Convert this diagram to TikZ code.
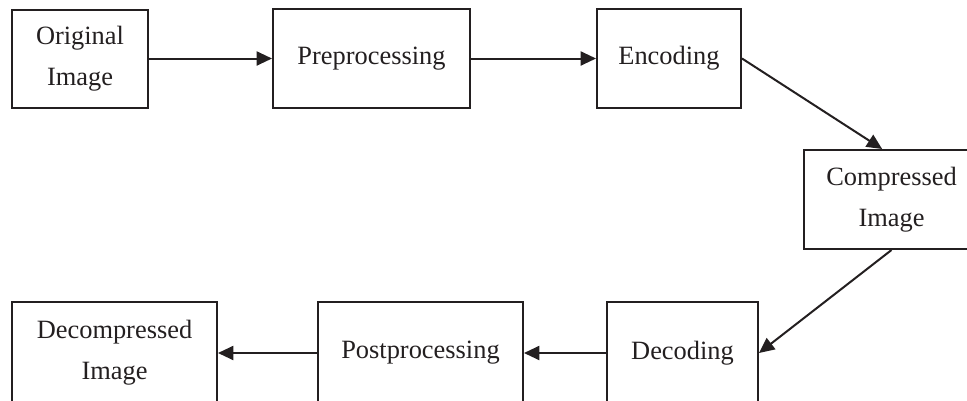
\documentclass[tikz,border=0pt]{standalone}
\usepackage{fontspec}
\setmainfont{Liberation Serif}
\usetikzlibrary{arrows.meta}
\definecolor{diagfg}{HTML}{231F20}

\tikzset{
  stage/.style={draw=diagfg, line width=1.5pt, inner sep=0pt, align=center,
    text=diagfg, font=\fontsize{19.8}{30.75}\selectfont},
  flow/.style={draw=diagfg, line width=1.5pt, -{Triangle[length=11.5pt,width=10.5pt]}}
}

\begin{document}
\begin{tikzpicture}[x=0.75pt, y=-0.75pt]
  \useasboundingbox (0,0) rectangle (967,400);
  \clip (0,0) rectangle (967,400);
  % top row
  \node[stage, minimum width=102pt, minimum height=73.5pt] (orig) at (80,58.5) {Original\\Image};
  \node[stage, minimum width=147.75pt, minimum height=74.25pt] (prep) at (371.5,58.5) {Preprocessing};
  \node[stage, minimum width=108pt, minimum height=74.25pt] (enc) at (669,58.5) {Encoding};
  % right
  \node[stage, minimum width=131.25pt, minimum height=74.25pt] (comp) at (891.5,199.5) {Compressed\\Image};
  % bottom row
  \node[stage, minimum width=113.25pt, minimum height=76.5pt] (dec) at (682.5,353) {Decoding};
  \node[stage, minimum width=153.75pt, minimum height=76.5pt] (post) at (420.5,353) {Postprocessing};
  \node[stage, minimum width=153.75pt, minimum height=76.5pt] (decomp) at (114.5,353) {Decompressed\\Image};
  \draw[flow] (orig) -- (prep);
  \draw[flow] (prep) -- (enc);
  \draw[flow] (enc.east) -- ([xshift=-7pt]comp.north);
  \draw[flow] (comp.south) -- (dec.east);
  \draw[flow] (dec) -- (post);
  \draw[flow] (post) -- (decomp);
\end{tikzpicture}
\end{document}
